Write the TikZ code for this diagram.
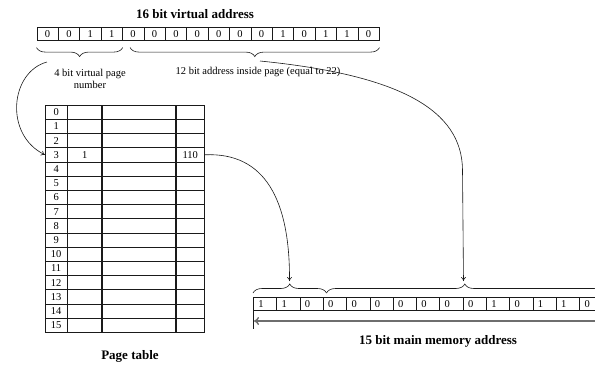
\documentclass[tikz,border=0pt]{standalone}
\usepackage{fontspec}
\setmainfont{Liberation Serif}
\usepackage{tikz}
\usetikzlibrary{arrows.meta,positioning,decorations.pathreplacing}
\definecolor{gridline}{HTML}{1A1A1A}
\definecolor{spangray}{HTML}{6E6E6E}
\tikzset{
  vcell/.style={draw=gridline, line width=0.6pt, minimum width=21.4pt,
               minimum height=13pt, inner sep=0pt, anchor=north west,
               font=\fontsize{10.5}{11}\selectfont},
  mcell/.style={vcell, minimum width=23.3pt, text width=13.3pt,
               inner xsep=5pt, align=left},
  pcell/.style={draw=gridline, line width=0.8pt, minimum height=14.2pt,
               inner sep=0pt, anchor=north west,
               font=\fontsize{10.5}{11}\selectfont},
  bitbrace/.style={decorate, decoration={brace, amplitude=9pt},
               line width=0.6pt, draw=gridline},
  caption/.style={font=\fontsize{13}{15}\selectfont\bfseries},
  note/.style={font=\fontsize{10.5}{12.5}\selectfont, align=center},
  link/.style={-{To[length=4pt,width=5pt]}, line width=0.6pt, gridline},
  span/.style={{To[length=5pt,width=8pt]}-, line width=1.4pt, spangray},
}
\begin{document}
\begin{tikzpicture}[x=1pt, y=-1pt]

  \clip (0,0) rectangle (595,367);

  \node[caption] (vtitle) at (195,14) {16 bit virtual address};
  \foreach \b [count=\i from 0] in {0,0,1,1,0,0,0,0,0,0,0,1,0,1,1,0}
    \node[vcell] (v\i) at (36.5+21.4*\i,27) {\b};

  \draw[bitbrace] ([yshift=-7pt]v3.south east) -- ([yshift=-7pt]v0.south west);
  \draw[bitbrace] ([yshift=-7pt]v15.south east) -- ([xshift=8pt,yshift=-7pt]v4.south west);
  \coordinate (vpntip) at (47,62);
  \coordinate (offtip) at (260,61);

  \node[note] (vpnlabel) at (90,79) {4 bit virtual page\\number};
  \node[note] (offlabel) at (258,72) {12 bit address inside page (equal to 22)};

  \foreach \r in {0,...,15} {
    \node[pcell, minimum width=21.5pt] (idx\r) at (45,104.7+14.2*\r) {\r};
    \node[pcell, minimum width=34pt, right=0pt of idx\r] (vb\r) {\ifnum\r=3 1\fi};
    \node[pcell, minimum width=73pt, right=0pt of vb\r] (mid\r) {};
    \node[pcell, minimum width=28pt, right=0pt of mid\r] (pf\r) {\ifnum\r=3 110\fi};
  }
  \node[caption] (ptitle) at (130,356) {Page table};

  \foreach \b [count=\i from 0] in {1,1,0,0,0,0,0,0,0,0,1,0,1,1,0}
    \node[mcell] (m\i) at (253+23.3*\i,297) {\b};

  \draw[bitbrace] ([yshift=4pt]m0.north west) -- ([xshift=3pt,yshift=4pt]m2.north east);
  \draw[bitbrace] ([xshift=3pt,yshift=4pt]m2.north east) -- ([yshift=4pt]m14.north east);
  \coordinate (mtipa) at (289.5,281);
  \coordinate (mtipb) at (463.5,281);

  \draw[line width=0.6pt, gridline] (m0.south west) -- ++(0,18);
  \coordinate (memend) at (600,321);
  \draw[span] ([xshift=1pt]m0.south west |- memend) -- (memend);
  \node[caption] (mtitle) at (438,341) {15 bit main memory address};

  \draw[link] (vpntip) .. controls (10,72) and (4,135) .. (idx3.west);
  \draw[link] (pf3.east) .. controls (265,152) and (290,200) .. (mtipa);
  \draw[link] (offtip) .. controls (400,75) and (462,110) .. (462.5,170) -- (mtipb);

\end{tikzpicture}
\end{document}
